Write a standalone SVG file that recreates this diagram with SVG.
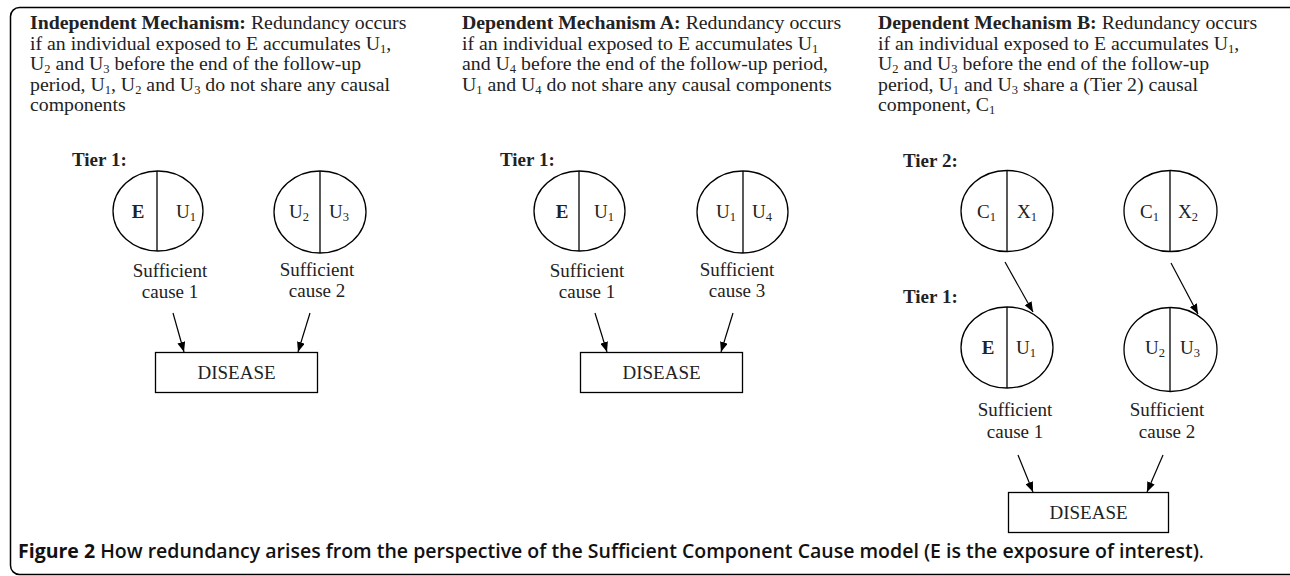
<svg xmlns="http://www.w3.org/2000/svg" width="1290" height="576" viewBox="0 0 1290 576">
<defs>
<marker id="ah" markerWidth="10" markerHeight="8" refX="10" refY="4" orient="auto" markerUnits="userSpaceOnUse">
<path d="M0,0 L10,4 L0,8 Z" fill="#000"/>
</marker>
<style>
.t{font-family:"Liberation Serif","Times New Roman",serif;font-size:19.8px;fill:#222}
.n{font-size:19px}
.b{font-weight:bold}
.s{font-size:12.5px}
.c{fill:#fff;stroke:#000;stroke-width:1.3}
.d{stroke:#000;stroke-width:1.3}
.m{text-anchor:middle}
.cn line{stroke:#000;stroke-width:1.2;marker-end:url(#ah)}
.box{fill:#fff;stroke:#000;stroke-width:1.3}
.cap{font-family:"Open Sans","Noto Sans",sans-serif;font-size:19.5px;font-weight:bold;fill:#111}
</style>
</defs>
<rect x="10.5" y="7.5" width="1290" height="567" rx="9" fill="none" stroke="#000" stroke-width="1.5"/>

<!-- Panel 1 text -->
<g id="text1" class="t">
<text x="30" y="29"><tspan class="b">Independent Mechanism:</tspan> Redundancy occurs</text>
<text x="30" y="49.5">if an individual exposed to E accumulates U<tspan class="s" dy="3">1</tspan><tspan dy="-3">,</tspan></text>
<text x="30" y="70">U<tspan class="s" dy="3">2</tspan><tspan dy="-3"> and U</tspan><tspan class="s" dy="3">3</tspan><tspan dy="-3"> before the end of the follow-up</tspan></text>
<text x="30" y="90.5">period, U<tspan class="s" dy="3">1</tspan><tspan dy="-3">, U</tspan><tspan class="s" dy="3">2</tspan><tspan dy="-3"> and U</tspan><tspan class="s" dy="3">3</tspan><tspan dy="-3"> do not share any causal</tspan></text>
<text x="30" y="111">components</text>
<text x="72" y="166" class="b n">Tier 1:</text>
</g>

<!-- Panel 2 text -->
<g id="text2" class="t">
<text x="462" y="29"><tspan class="b">Dependent Mechanism A:</tspan> Redundancy occurs</text>
<text x="462" y="49.5">if an individual exposed to E accumulates U<tspan class="s" dy="3">1</tspan></text>
<text x="462" y="70">and U<tspan class="s" dy="3">4</tspan><tspan dy="-3"> before the end of the follow-up period,</tspan></text>
<text x="462" y="90.5">U<tspan class="s" dy="3">1</tspan><tspan dy="-3"> and U</tspan><tspan class="s" dy="3">4</tspan><tspan dy="-3"> do not share any causal components</tspan></text>
<text x="500" y="166" class="b n">Tier 1:</text>
</g>

<!-- Panel 3 text -->
<g id="text3" class="t">
<text x="878" y="29"><tspan class="b">Dependent Mechanism B:</tspan> Redundancy occurs</text>
<text x="878" y="49.5">if an individual exposed to E accumulates U<tspan class="s" dy="3">1</tspan><tspan dy="-3">,</tspan></text>
<text x="878" y="70">U<tspan class="s" dy="3">2</tspan><tspan dy="-3"> and U</tspan><tspan class="s" dy="3">3</tspan><tspan dy="-3"> before the end of the follow-up</tspan></text>
<text x="878" y="90.5">period, U<tspan class="s" dy="3">1</tspan><tspan dy="-3"> and U</tspan><tspan class="s" dy="3">3</tspan><tspan dy="-3"> share a (Tier 2) causal</tspan></text>
<text x="878" y="111">component, C<tspan class="s" dy="3">1</tspan></text>
<text x="903" y="167" class="b n">Tier 2:</text>
<text x="903" y="303" class="b n">Tier 1:</text>
</g>

<!-- Panel 1 nodes -->
<g id="p1-sc1" class="t n">
<ellipse class="c" cx="158" cy="211" rx="45" ry="40"/>
<line class="d" x1="157" y1="171" x2="157" y2="251"/>
<text x="138" y="218" class="b m">E</text>
<text x="176" y="218">U<tspan class="s" dy="3">1</tspan></text>
<text x="170" y="277" class="m">Sufficient</text>
<text x="170" y="298" class="m">cause 1</text>
</g>
<g id="p1-sc2" class="t n">
<ellipse class="c" cx="320" cy="212" rx="46" ry="41"/>
<line class="d" x1="320" y1="171" x2="320" y2="253"/>
<text x="289" y="218">U<tspan class="s" dy="3">2</tspan></text>
<text x="329" y="218">U<tspan class="s" dy="3">3</tspan></text>
<text x="317" y="276" class="m">Sufficient</text>
<text x="317" y="297" class="m">cause 2</text>
</g>
<g id="p1-disease" class="t n">
<rect class="box" x="155.5" y="352.5" width="162" height="40"/>
<text x="236.5" y="379" class="m">DISEASE</text>
</g>

<!-- Panel 2 nodes -->
<g id="p2-sc1" class="t n">
<ellipse class="c" cx="579.5" cy="211" rx="45.5" ry="40"/>
<line class="d" x1="579" y1="171" x2="579" y2="251"/>
<text x="562" y="218" class="b m">E</text>
<text x="594" y="218">U<tspan class="s" dy="3">1</tspan></text>
<text x="587" y="277" class="m">Sufficient</text>
<text x="587" y="298" class="m">cause 1</text>
</g>
<g id="p2-sc3" class="t n">
<ellipse class="c" cx="742.5" cy="212" rx="45.5" ry="41"/>
<line class="d" x1="743" y1="171" x2="743" y2="253"/>
<text x="716" y="218">U<tspan class="s" dy="3">1</tspan></text>
<text x="752" y="218">U<tspan class="s" dy="3">4</tspan></text>
<text x="737" y="276" class="m">Sufficient</text>
<text x="737" y="297" class="m">cause 3</text>
</g>
<g id="p2-disease" class="t n">
<rect class="box" x="580.5" y="352.5" width="162" height="40"/>
<text x="661.5" y="379" class="m">DISEASE</text>
</g>

<!-- Panel 3 nodes -->
<g id="p3-t2a" class="t n">
<ellipse class="c" cx="1007" cy="211" rx="46" ry="40.5"/>
<line class="d" x1="1007" y1="171" x2="1007" y2="252"/>
<text x="977" y="218">C<tspan class="s" dy="3">1</tspan></text>
<text x="1017" y="218">X<tspan class="s" dy="3">1</tspan></text>
</g>
<g id="p3-t2b" class="t n">
<ellipse class="c" cx="1170.5" cy="211" rx="46.5" ry="40.5"/>
<line class="d" x1="1170" y1="171" x2="1170" y2="252"/>
<text x="1140" y="218">C<tspan class="s" dy="3">1</tspan></text>
<text x="1178" y="218">X<tspan class="s" dy="3">2</tspan></text>
</g>
<g id="p3-sc1" class="t n">
<ellipse class="c" cx="1007" cy="347.5" rx="46" ry="40.5"/>
<line class="d" x1="1007" y1="307" x2="1007" y2="388"/>
<text x="988" y="354" class="b m">E</text>
<text x="1016" y="354">U<tspan class="s" dy="3">1</tspan></text>
<text x="1015" y="416" class="m">Sufficient</text>
<text x="1015" y="438" class="m">cause 1</text>
</g>
<g id="p3-sc2" class="t n">
<ellipse class="c" cx="1170.5" cy="349.5" rx="46.5" ry="42"/>
<line class="d" x1="1170" y1="307" x2="1170" y2="392"/>
<text x="1145" y="354">U<tspan class="s" dy="3">2</tspan></text>
<text x="1180" y="354">U<tspan class="s" dy="3">3</tspan></text>
<text x="1167" y="416" class="m">Sufficient</text>
<text x="1167" y="438" class="m">cause 2</text>
</g>
<g id="p3-disease" class="t n">
<rect class="box" x="1008.5" y="492.5" width="160" height="40"/>
<text x="1088.5" y="519" class="m">DISEASE</text>
</g>

<!-- Connectors -->
<g id="connectors" class="cn">
<line x1="173" y1="313" x2="184" y2="352"/>
<line x1="310" y1="313" x2="298" y2="352"/>
<line x1="595" y1="313" x2="607" y2="352"/>
<line x1="733" y1="313" x2="721" y2="352"/>
<line x1="1005" y1="262" x2="1033" y2="312"/>
<line x1="1171" y1="263" x2="1198" y2="314"/>
<line x1="1018" y1="455" x2="1033" y2="492"/>
<line x1="1163" y1="455" x2="1147" y2="492"/>
</g>

<g id="caption">
<text x="18" y="558" class="cap">Figure 2<tspan font-weight="600"> How redundancy arises from the perspective of the Sufficient Component Cause model (E is the exposure of interest)</tspan><tspan font-weight="normal">.</tspan></text>
</g>
</svg>
